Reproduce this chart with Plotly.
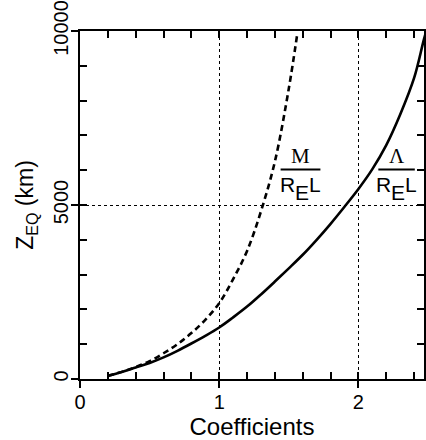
import plotly.graph_objects as go

# ---- data ----
lam_coef = [0.2, 0.3, 0.4, 0.5, 0.6, 0.7, 0.8, 0.9, 1.0, 1.1, 1.2, 1.3, 1.4, 1.5,
            1.6, 1.7, 1.8, 1.9, 2.0, 2.1, 2.2, 2.3, 2.4, 2.47, 2.52]
lam_z = [90, 200, 330, 460, 620, 810, 1020, 1240, 1480, 1770, 2080, 2430, 2800, 3180,
         3570, 4000, 4460, 4950, 5460, 6030, 6720, 7600, 8650, 9750, 10500]

m_coef = [0.2, 0.3, 0.4, 0.5, 0.6, 0.7, 0.8, 0.9, 1.0, 1.1, 1.2, 1.3, 1.4, 1.5, 1.56]
m_z = [90, 205, 345, 510, 740, 1000, 1320, 1700, 2180, 2870, 3680, 4820, 6250, 8350, 9900]

x_ticks = [0, 0.2, 0.4, 0.6, 0.8, 1.0, 1.2, 1.4, 1.6, 1.8, 2.0, 2.2, 2.4]
x_major = [0, 1, 2]
y_ticks = list(range(0, 10001, 1000))
y_major = [0, 5000, 10000]

# fraction labels: (numerator, centre x, bar half-width, bar y)
labels = [("M", 1.584, 0.143, 6020), ("\u039b", 2.274, 0.131, 6020)]
# denominator pieces: (text, x shift px, extra y shift px)
denom = [("R", -12.9, 0), ("E", 1.7, -8), ("L", 14.6, 0)]

fig = go.Figure()
fig.add_trace(go.Scatter(x=lam_coef, y=lam_z, mode="lines",
                         line=dict(color="black", width=2.6, shape="spline", smoothing=1),
                         showlegend=False))
fig.add_trace(go.Scatter(x=m_coef, y=m_z, mode="lines",
                         line=dict(color="black", width=2.6, dash="6px,4px",
                                   shape="spline", smoothing=1),
                         showlegend=False))
fig.add_trace(go.Scatter(x=[None], y=[None], xaxis="x2", yaxis="y2", showlegend=False))

xr = [0, 2.471]
yr = [0, 10000]
xlabels = [("%g" % v) if v in x_major else "" for v in x_ticks]
ylabels = [("%d" % v) if v in y_major else "" for v in y_ticks]

fig.update_layout(
    width=426, height=440,
    margin=dict(l=80, r=0, t=31, b=61),
    plot_bgcolor="white", paper_bgcolor="white",
    font=dict(family="Liberation Sans, Arial, sans-serif", color="black"),
    xaxis=dict(range=xr, tickvals=x_ticks, ticktext=xlabels, ticks="inside", ticklen=7,
               tickwidth=1.5, tickcolor="black", showline=True, linewidth=1.5,
               linecolor="black", mirror="ticks", showgrid=False, zeroline=False,
               tickfont=dict(size=20), ticklabelstandoff=4,
               title=dict(text="Coefficients", font=dict(size=24), standoff=10)),
    yaxis=dict(range=yr, tickvals=y_ticks, ticktext=ylabels, ticks="inside", ticklen=7,
               tickwidth=1.5, tickcolor="black", showline=True, linewidth=1.5,
               linecolor="black", mirror="ticks", showgrid=False, zeroline=False,
               tickangle=-90, tickfont=dict(size=20), ticklabelstandoff=2,
               title=dict(text="Z<sub>EQ</sub> (km)", font=dict(size=23), standoff=10)),
    xaxis2=dict(range=xr, overlaying="x", anchor="y2", tickvals=x_major, ticks="outside",
                ticklen=8, tickwidth=1.5, tickcolor="black", showticklabels=False,
                showgrid=True, griddash="dot", gridcolor="black", gridwidth=1,
                showline=False, zeroline=False),
    yaxis2=dict(range=yr, overlaying="y", anchor="x2", tickvals=y_major, ticks="outside",
                ticklen=8, tickwidth=1.5, tickcolor="black", showticklabels=False,
                showgrid=True, griddash="dot", gridcolor="black", gridwidth=1,
                showline=False, zeroline=False),
)

for num, cx, hw, by in labels:
    fig.add_shape(type="line", x0=cx - hw, x1=cx + hw, y0=by, y1=by,
                  xref="x", yref="y", line=dict(color="black", width=2))
    fig.add_annotation(x=cx, y=by, xref="x", yref="y", text=num, showarrow=False,
                       yanchor="bottom", yshift=0,
                       font=dict(family="Liberation Serif, Times New Roman, serif", size=21))
    for txt, dx, dy in denom:
        fig.add_annotation(x=cx, y=by, xref="x", yref="y", text=txt, showarrow=False,
                           xanchor="center", yanchor="top", xshift=dx, yshift=-1 + dy,
                           font=dict(size=21))

fig.write_html("out.html")
